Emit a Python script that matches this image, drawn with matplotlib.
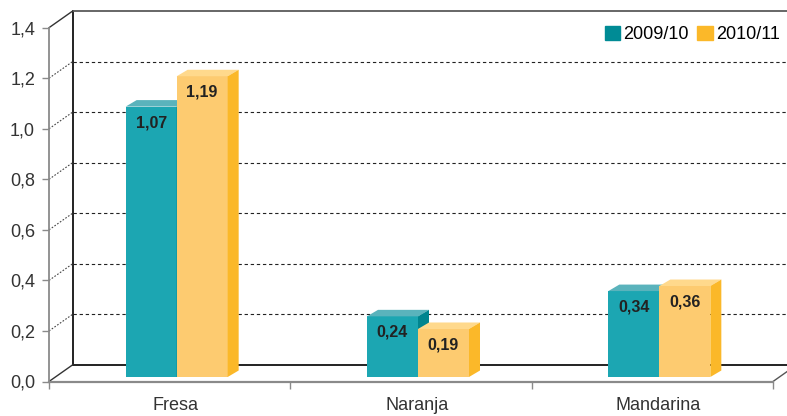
import matplotlib.pyplot as plt
from matplotlib.patches import Polygon, Patch
from matplotlib.transforms import ScaledTranslation

categories = ["Fresa", "Naranja", "Mandarina"]
series = ["2009/10", "2010/11"]
v_0910 = [1.07, 0.24, 0.34]
v_1011 = [1.19, 0.19, 0.36]
yticks = [0.0, 0.2, 0.4, 0.6, 0.8, 1.0, 1.2, 1.4]

plt.rcParams['font.family'] = ['Liberation Sans', 'DejaVu Sans']

W_PX, H_PX = 787, 416
fig = plt.figure(figsize=(W_PX / 100, H_PX / 100), dpi=100)
ax = fig.add_axes([49 / W_PX, 34.5 / H_PX, 724 / W_PX, 353.8 / H_PX])
ax.set_xlim(-0.5, 2.5)
ax.set_ylim(0, 1.4)

# pixel -> data unit helpers for the fake 3d depth
px_x = 3 / 724
px_y = 1.4 / 353.8
DX, DY = 23.7 * px_x, 16.7 * px_y      # full depth of the floor
SX, SY = 7 * px_x, 4.5 * px_y          # bar front face offset
BX, BY = 11 * px_x, 6.5 * px_y         # bar depth
BW = 51 * px_x                         # bar width

dark = '#222222'
grey = '#8a8a8a'

# back wall
xr = 2.5 + DX + 0.2
ax.plot([-0.5 + DX, -0.5 + DX], [DY, 1.4 + DY], color=dark, lw=1.4, clip_on=False, zorder=1)
ax.plot([-0.5 + DX, xr], [1.4 + DY, 1.4 + DY], color='#666666', lw=1.4, clip_on=False, zorder=1)
ax.plot([-0.5 + DX, xr], [DY, DY], color=dark, lw=1.4, clip_on=False, zorder=1)
for t in yticks[1:-1]:
    ax.plot([-0.5 + DX, xr], [t + DY, t + DY], color=dark, lw=0.8,
            ls=(0, (3, 2.5)), clip_on=False, zorder=1)
    ax.plot([-0.5, -0.5 + DX], [t, t + DY], color='#444444', lw=0.8,
            ls=(0, (1.5, 1.5)), clip_on=False, zorder=1)
ax.plot([-0.5, -0.5 + DX], [1.4, 1.4 + DY], color='#333333', lw=1, clip_on=False, zorder=1)
ax.plot([-0.5, -0.5 + DX], [0, DY], color='#333333', lw=1, clip_on=False, zorder=1)
ax.plot([2.5, 2.5 + DX], [0, DY], color='#555555', lw=1, clip_on=False, zorder=1)

colors = {
    "2009/10": ('#1ca6b2', '#5ab3bc', '#00858f'),
    "2010/11": ('#fdcb70', '#ffd98c', '#fbb829'),
}


def bar3d(x0, v, cols):
    front, top, side = cols
    ax.bar(x0, v, width=BW, bottom=SY, align='edge', color=front, lw=0, zorder=3)
    y1 = v + SY
    ax.add_patch(Polygon([(x0, y1), (x0 + BX, y1 + BY), (x0 + BW + BX, y1 + BY), (x0 + BW, y1)],
                         closed=True, color=top, lw=0, zorder=3))
    ax.add_patch(Polygon([(x0 + BW, SY), (x0 + BW + BX, SY + BY), (x0 + BW + BX, y1 + BY), (x0 + BW, y1)],
                         closed=True, color=side, lw=0, zorder=3))
    ax.annotate(f"{v:.2f}".replace('.', ','), xy=(x0 + BW / 2, y1), xytext=(0, -16),
                textcoords='offset pixels', ha='center', va='center',
                fontsize=11.5, fontweight='bold', color=dark, zorder=4)


for i in range(len(categories)):
    c = i + SX
    bar3d(c - BW, v_0910[i], colors["2009/10"])
    bar3d(c, v_1011[i], colors["2010/11"])

# front axes
for s in ['top', 'right']:
    ax.spines[s].set_visible(False)
ax.spines['left'].set_color(grey)
ax.spines['left'].set_linewidth(1.3)
ax.spines['bottom'].set_color(grey)
ax.spines['bottom'].set_linewidth(1.6)
ax.spines['left'].set_zorder(5)
ax.spines['bottom'].set_zorder(5)

ax.set_yticks(yticks, [f"{t:.1f}".replace('.', ',') for t in yticks])
ax.tick_params(axis='y', length=5, width=1, color=grey, pad=5, labelsize=13, labelcolor='#333333')

ax.set_xticks(range(len(categories)), categories)
ax.set_xticks([-0.5, 0.5, 1.5, 2.5], minor=True)
ax.tick_params(axis='x', which='major', length=0, pad=11, labelsize=13, labelcolor='#333333')
ax.tick_params(axis='x', which='minor', length=5, width=1, color=grey)
for lbl in ax.get_xticklabels():
    lbl.set_transform(lbl.get_transform() + ScaledTranslation(6 / 100, 0, fig.dpi_scale_trans))

handles = [Patch(color='#008b95'), Patch(color='#fbb829')]
fig.legend(handles, series, loc='center right', bbox_to_anchor=(780 / W_PX, 1 - 34.5 / H_PX),
           ncol=2, frameon=False, fontsize=13, handlelength=0.85, handleheight=0.85,
           handletextpad=0.2, columnspacing=0.45, borderpad=0, borderaxespad=0)

fig.savefig('out.png', dpi=100)
